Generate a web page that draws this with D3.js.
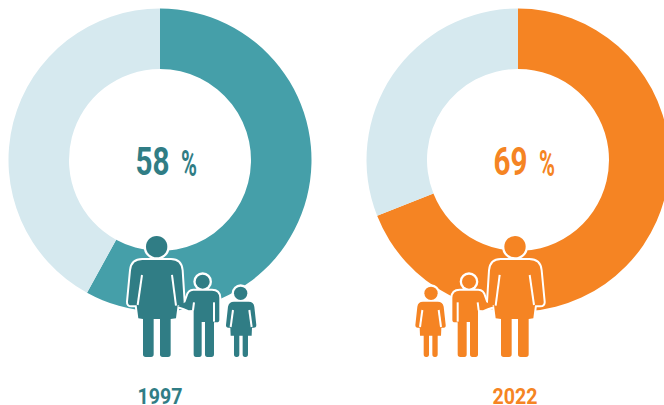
<!DOCTYPE html>
<html><head><meta charset="utf-8">
<script src="https://cdn.jsdelivr.net/npm/d3@7"></script>
<style>html,body{margin:0;padding:0;background:#fff}svg{display:block}
text{font-family:"Liberation Sans Narrow","Roboto","Liberation Sans",sans-serif;font-weight:700}</style>
</head><body><svg id="c" width="664" height="405"></svg>
<script>
const years = ["1997", "2022"];
const shares = [58, 69];
const ringColors = ["#459fa9", "#f58423"];
const figureColors = ["#307d85", "#f58423"];
const centreColors = ["#307d85", "#f58423"];
const restColor = "#d6e9ef";

const svg = d3.select("#c");
const cy = 160, R = 151.5, r = 91;
const cx = d3.scaleOrdinal().domain(years).range([160, 518]);
const yearX = d3.scaleOrdinal().domain(years).range([160, 515]);
const pie = d3.pie().sort(null).value(d => d);
const arc = d3.arc().innerRadius(r).outerRadius(R);

// pictogram outlines, in a 3x drawing box
const figures = {
  woman: {head:[140,65,32],
    body:"M97,105L183,105Q212,105 215,136L221,230Q222,241 211,241L203,241L198,280L182,282L182,388Q182,396 174,396L158,396Q150,396 150,388L150,282L131,282L131,388Q131,396 123,396L107,396Q99,396 99,388L99,282L85,280L80,241L64,241Q53,241 54,230L63,136Q66,105 97,105Z",
    gaps:["M96,150L83,240","M186,150L198,242"]},
  boy: {head:[278,170,21],
    body:"M250,197L306,197Q327,197 328,218L328,284Q328,292 320,292L312,292L312,388Q312,396 304,396L292,396Q285,396 285,388L285,291L275,291L275,388Q275,396 268,396L258,396Q251,396 251,388L251,255L236,256L222,250L204,244L212,238L226,232L232,215Q236,197 250,197Z",
    gaps:["M252,232L249,256","M312,232L312,290"]},
  girl: {head:[392,205,20],
    body:"M372,230L416,230Q431,230 433,245L439,300Q439,308 432,308L426,308L425,332L414,332L414,388Q414,396 407,396L405,396Q398,396 398,388L398,332L388,332L388,388Q388,396 381,396L379,396Q372,396 372,388L372,332L362,332L361,308L354,308Q347,308 348,300L354,245Q357,230 372,230Z",
    gaps:["M369,255L362,306","M418,255L425,306"]}
};

years.forEach((year, i) => {
  const g = svg.append("g").attr("transform", `translate(${cx(year)},${cy})`);
  g.selectAll("path").data(pie([shares[i], 100 - shares[i]])).join("path")
    .attr("d", arc).attr("fill", (d, k) => k === 0 ? ringColors[i] : restColor);

  const colour = centreColors[i];
  svg.append("text").attr("x", cx(year) - 24.5).attr("y", 174.5)
    .attr("font-size", 38).attr("fill", colour)
    .attr("textLength", 34).attr("lengthAdjust", "spacingAndGlyphs").text(shares[i]);
  svg.append("text").attr("x", cx(year) + 21).attr("y", 176)
    .attr("font-size", 36).attr("fill", colour)
    .attr("textLength", 16).attr("lengthAdjust", "spacingAndGlyphs").text("%");
  svg.append("text").attr("x", yearX(year)).attr("y", 403.5).attr("text-anchor", "middle")
    .attr("font-size", 22).attr("fill", colour)
    .attr("textLength", 45).attr("lengthAdjust", "spacingAndGlyphs").text(year);

  // right-hand group is the mirror image of the left-hand one
  const t = i === 0 ? "translate(110,225) scale(0.3333)" : `translate(${400 + 485 / 3},225) scale(-0.3333,0.3333)`;
  const p = svg.append("g").attr("transform", t);
  const names = Object.keys(figures);
  names.forEach(n => {
    const f = figures[n];
    p.append("path").attr("d", f.body).attr("fill", "#fff").attr("stroke", "#fff").attr("stroke-width", 12).attr("stroke-linejoin", "round");
    p.append("circle").attr("cx", f.head[0]).attr("cy", f.head[1]).attr("r", f.head[2] + 7).attr("fill", "#fff");
  });
  names.forEach(n => {
    const f = figures[n];
    p.append("path").attr("d", f.body).attr("fill", figureColors[i]);
    p.append("circle").attr("cx", f.head[0]).attr("cy", f.head[1]).attr("r", f.head[2]).attr("fill", figureColors[i]);
    f.gaps.forEach(d => p.append("path").attr("d", d).attr("fill", "none").attr("stroke", "#fff").attr("stroke-width", 6));
  });
});
</script></body></html>
